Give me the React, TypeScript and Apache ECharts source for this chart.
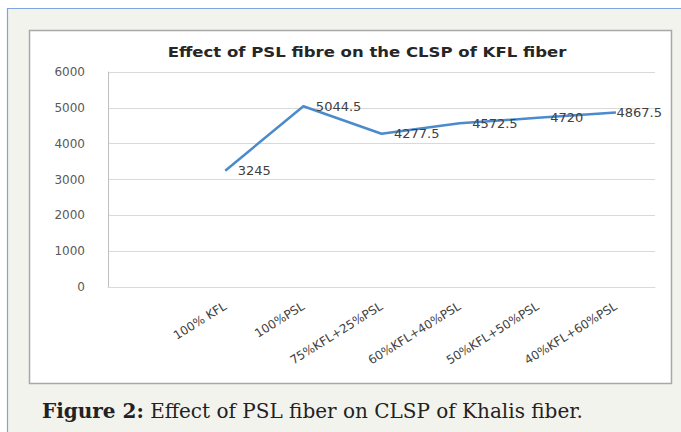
import React, { useEffect, useRef } from "react";
import * as echarts from "echarts";

const categories = ["", "100% KFL", "100%PSL", "75%KFL+25%PSL", "60%KFL+40%PSL", "50%KFL+50%PSL", "40%KFL+60%PSL"];
const clspValues: (number | null)[] = [null, 3245, 5044.5, 4277.5, 4572.5, 4720, 4867.5];
const yMin = 0;
const yMax = 6000;
const yStep = 1000;
const chartTitle = "Effect of PSL fibre on the CLSP of KFL fiber";
const captionBold = "Figure 2:";
const captionText = "Effect of PSL fiber on CLSP of Khalis fiber.";

export default function App() {
  const ref = useRef<HTMLDivElement>(null);
  useEffect(() => {
    document.body.style.margin = "0";
    const chart = echarts.init(ref.current!, null, { renderer: "svg" });
    const data = clspValues.map((v, i) =>
      i === clspValues.length - 1 && v !== null
        ? { value: v, label: { offset: [-12, 0] } }
        : v
    );
    chart.setOption({
      animation: false,
      backgroundColor: "#ffffff",
      graphic: [
        {
          type: "rect",
          z: -10,
          shape: { x: 7.5, y: 8.5, width: 700, height: 450 },
          style: { fill: "#f3f3ee", stroke: "#7ea6dc", lineWidth: 1.2 },
        },
        {
          type: "rect",
          z: -9,
          shape: { x: 29.5, y: 30.5, width: 642, height: 353 },
          style: { fill: "#ffffff", stroke: "#a8a8a8", lineWidth: 1.5 },
        },
        {
          type: "text",
          x: 367,
          y: 52,
          scaleX: 1.18,
          style: {
            text: chartTitle,
            align: "center",
            verticalAlign: "middle",
            fontFamily: "DejaVu Sans",
            fontSize: 14,
            fontWeight: "bold",
            fill: "#262626",
          },
        },
        {
          type: "text",
          x: 42,
          y: 411,
          style: {
            text: `{b|${captionBold}}{n| ${captionText}}`,
            verticalAlign: "middle",
            rich: {
              b: { fontFamily: "DejaVu Serif", fontSize: 20, fontWeight: "bold", fill: "#222222" },
              n: { fontFamily: "DejaVu Serif", fontSize: 20, fill: "#222222" },
            },
          },
        },
      ],
      grid: { left: 108, right: 26, top: 72, bottom: 145, containLabel: false },
      xAxis: {
        type: "category",
        data: categories,
        boundaryGap: true,
        axisLine: { show: true, lineStyle: { color: "#d9d9d9", width: 1 } },
        axisTick: { show: false },
        axisLabel: {
          interval: 0,
          rotate: 32,
          margin: 18,
          fontFamily: "DejaVu Sans",
          fontSize: 12,
          color: "#404040",
        },
      },
      yAxis: {
        type: "value",
        min: yMin,
        max: yMax,
        interval: yStep,
        axisLine: { show: true, lineStyle: { color: "#bfbfbf", width: 1 } },
        axisTick: { show: false },
        splitLine: { lineStyle: { color: "#d9d9d9", width: 1 } },
        axisLabel: {
          margin: 23,
          fontFamily: "DejaVu Sans",
          fontSize: 12,
          color: "#595959",
          formatter: (v: number) => String(v),
        },
      },
      series: [
        {
          type: "line",
          data,
          symbol: "circle",
          symbolSize: 1,
          showSymbol: true,
          itemStyle: { color: "rgba(74,126,187,0)", borderWidth: 0 },
          lineStyle: { color: "#4b8bcc", width: 2.5 },
          label: {
            show: true,
            position: "right",
            distance: 12,
            fontFamily: "DejaVu Sans",
            fontSize: 13,
            color: "#404040",
          },
        },
      ],
    });
    return () => chart.dispose();
  }, []);
  return <div ref={ref} style={{ width: 681, height: 432 }} />;
}
